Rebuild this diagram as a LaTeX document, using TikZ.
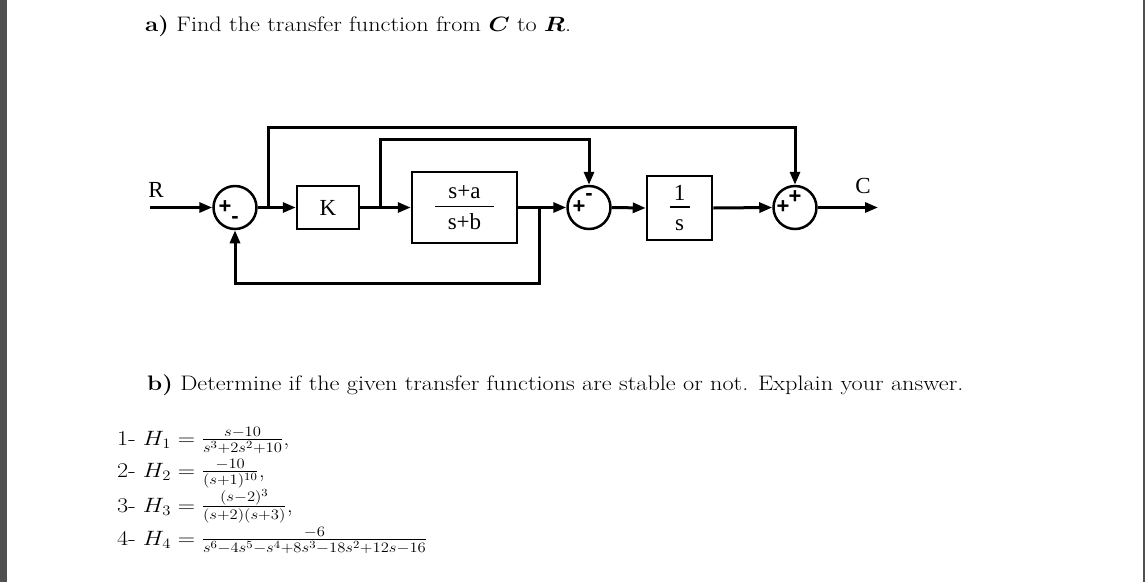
\documentclass[tikz,border=0pt]{standalone}
\usepackage{amsmath}
\usepackage{bm}
\usepackage{graphicx}
\usepackage{fontspec}
\newfontfamily\diagfont{Liberation Serif}
\newfontfamily\signfont{Liberation Sans}
\usetikzlibrary{arrows.meta}
\definecolor{edgegray}{HTML}{505050}
\newcommand{\wide}[1]{\scalebox{1.155}[1]{#1}}
\begin{document}
\begin{tikzpicture}[x=1pt, y=-1pt,
        block/.style={draw, line width=2.5pt, inner sep=0pt, align=center, font=\diagfont\fontsize{23}{26}\selectfont},
        sumnode/.style={circle, draw, line width=2.5pt, minimum size=43pt, inner sep=0pt},
        sign/.style={inner sep=0pt, font=\signfont\bfseries\fontsize{22}{22}\selectfont},
        label/.style={inner sep=0pt, font=\diagfont\fontsize{23}{26}\selectfont},
        sig/.style={draw, line width=3pt},
        arr/.style={sig, -{Triangle[length=13pt, width=10pt]}},
        txt/.style={anchor=base west, inner sep=0pt, font=\fontsize{21}{25}\selectfont}
    ]
        % Page and frame edges
        \useasboundingbox (0,0) rectangle (1145,582);
        \fill[white] (0,0) rectangle (1145,582);
        \fill[edgegray] (0,0) rectangle (7,582);
        \fill[edgegray] (1143,0) rectangle (1145,582);

        % Question a
        \node[txt] (qa) at (145,31) {\wide{\textbf{a)} Find the transfer function from $\bm{C}$ to $\bm{R}$.}};

        % Blocks
        \node[block, minimum width=62pt, minimum height=43pt] (gainK) at (328,207.5) {K};
        \node[block, minimum width=105pt, minimum height=71pt] (plant) at (464.5,207.5)
            {s+a\\[-17pt]\rule{59pt}{1.8pt}\\[-4pt]s+b};
        \node[block, minimum width=65pt, minimum height=64pt] (integ) at (679.5,208)
            {1\\[-18.5pt]\rule{20pt}{1.8pt}\\[-4pt]s};

        % Summing junctions
        \node[sumnode] (sumA) at (235,207.5) {};
        \node[sumnode] (sumB) at (589,207.5) {};
        \node[sumnode] (sumC) at (795,207.5) {};

        % Signs
        \node[sign] (sumAp) at ([xshift=-10pt]sumA.center) {+};
        \node[sign] (sumAm) at ([yshift=-12pt]sumA.center) {-};
        \node[sign] (sumBp) at ([xshift=-10pt]sumB.center) {+};
        \node[sign] (sumBm) at ([yshift=11pt]sumB.center) {-};
        \node[sign] (sumCp) at ([xshift=-12pt]sumC.center) {+};
        \node[sign] (sumCq) at ([yshift=10pt]sumC.center) {+};

        % Input, output and branch points
        \coordinate (rin) at (150,207.5);
        \coordinate (cout) at (878,207.5);
        \coordinate (brA) at (268,207.5);
        \coordinate (topA) at (268,127);
        \coordinate (brB) at (380,207.5);
        \coordinate (topB) at (380,139);
        \coordinate (brC) at (539,207.5);
        \coordinate (botC) at (539,283);
        \node[label] (lblR) at (156,190) {R};
        \node[label] (lblC) at (863,186) {C};

        % Forward path
        \draw[arr] (rin) -- (sumA.west);
        \draw[arr] (sumA.east) -- (gainK.west);
        \draw[arr] (gainK.east) -- (plant.west);
        \draw[arr] (plant.east) -- (sumB.west);
        \draw[arr] (sumB.east) -- (integ.west);
        \draw[arr] (integ.east) -- (sumC.west);
        \draw[arr] (sumC.east) -- (cout);

        % Feedforward and feedback paths
        \draw[arr] (brA) -- (topA) -| (sumC.north);
        \draw[arr] (brB) -- (topB) -| (sumB.north);
        \draw[arr] (brC) -- (botC) -| (sumA.south);

        % Question b
        \node[txt] (qb) at (147,390) {\wide{\textbf{b)} Determine if the given transfer functions are stable or not. Explain your answer.}};
        \node[txt] (hOne) at (117,445) {\wide{1- $H_1=\frac{s-10}{s^3+2s^2+10}$,}};
        \node[txt] (hTwo) at (117,477) {\wide{2- $H_2=\frac{-10}{(s+1)^{10}}$,}};
        \node[txt] (hThree) at (117,512) {\wide{3- $H_3=\frac{(s-2)^3}{(s+2)(s+3)}$,}};
        \node[txt] (hFour) at (117,545) {\wide{4- $H_4=\frac{-6}{s^6-4s^5-s^4+8s^3-18s^2+12s-16}$}};
    \end{tikzpicture}
\end{document}
